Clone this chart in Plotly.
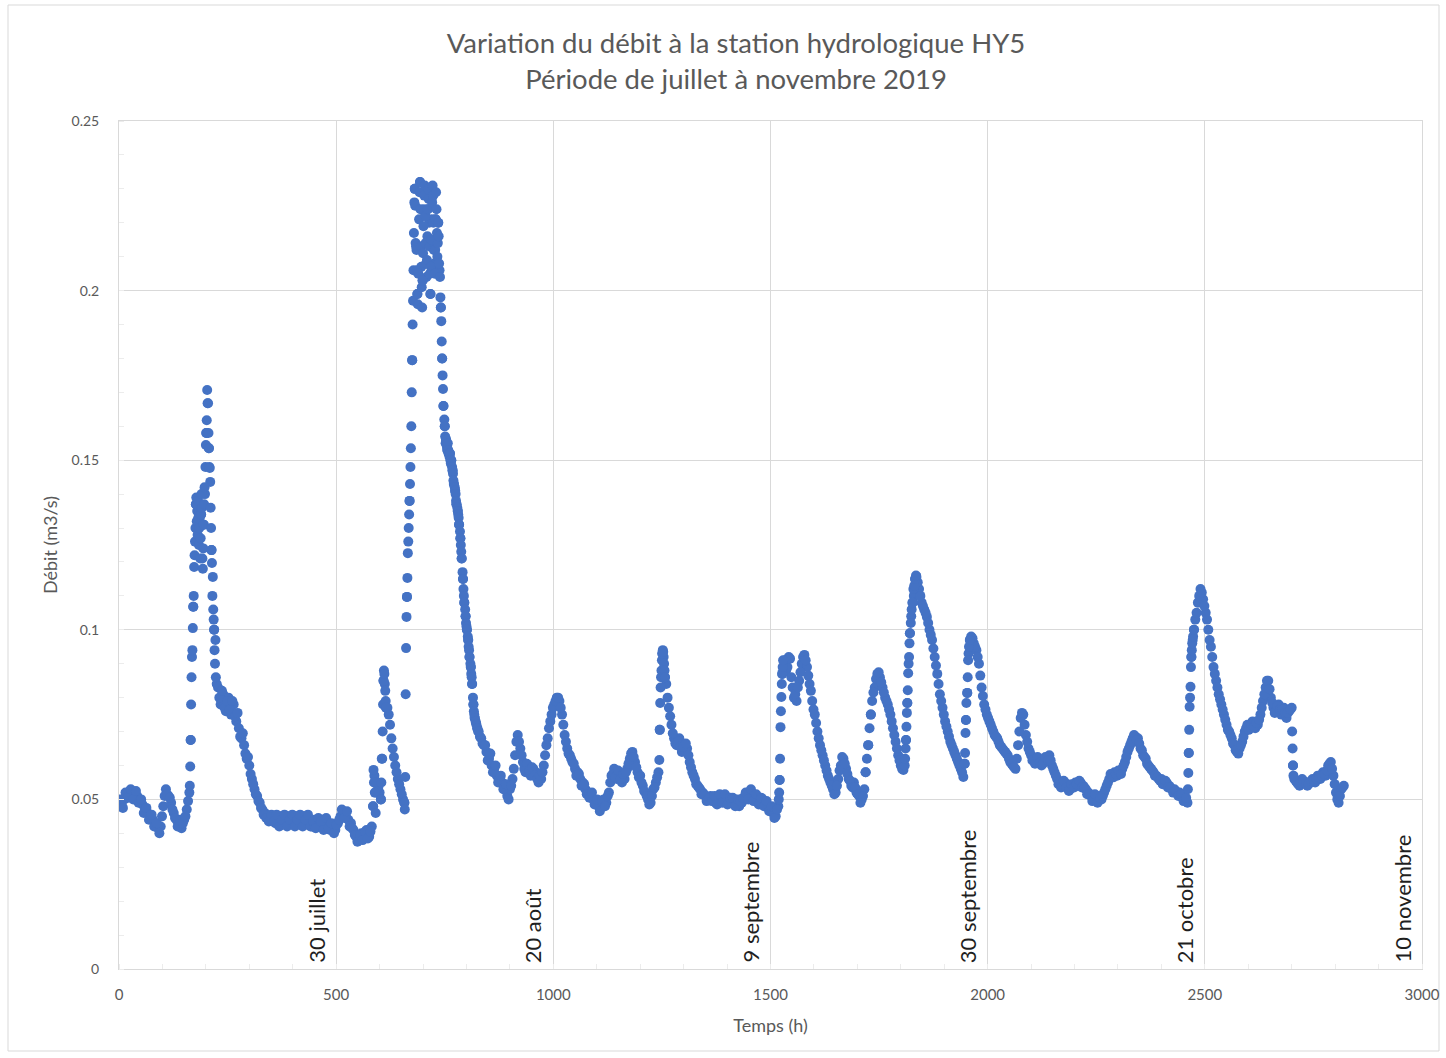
import plotly.graph_objects as go

# Débit relevé toutes les 6 heures (m3/s), à partir de t = 0 h
debit = [
    0.048, 0.0485, 0.050, 0.051, 0.052, 0.0515, 0.0515, 0.051, 0.0495, 0.0485,
    0.047, 0.046, 0.0445, 0.044, 0.0425, 0.0415, 0.042, 0.048, 0.053, 0.051,
    0.049, 0.046, 0.044, 0.0435, 0.0415, 0.044, 0.047, 0.052, 0.092, 0.122,
    0.135, 0.133, 0.121, 0.140, 0.1668, 0.1436, 0.1156, 0.097, 0.083, 0.078,
    0.081, 0.076, 0.080, 0.075, 0.078, 0.073, 0.071, 0.068, 0.066, 0.062,
    0.060, 0.056, 0.053, 0.051, 0.049, 0.047, 0.046, 0.045, 0.044, 0.045,
    0.043, 0.044, 0.045, 0.043, 0.044, 0.045, 0.043, 0.044, 0.045, 0.043,
    0.044, 0.045, 0.043, 0.044, 0.042, 0.044, 0.043, 0.042, 0.044, 0.042,
    0.043, 0.041, 0.042, 0.041, 0.043, 0.045, 0.046, 0.045, 0.044, 0.043,
    0.041, 0.039, 0.038, 0.040, 0.039, 0.041, 0.039, 0.042, 0.057, 0.055,
    0.052, 0.062, 0.084, 0.077, 0.072, 0.065, 0.060, 0.056, 0.053, 0.050,
    0.081, 0.126, 0.1535, 0.206, 0.213, 0.213, 0.207, 0.224, 0.204, 0.220,
    0.221, 0.208, 0.217, 0.206, 0.180, 0.160, 0.153, 0.152, 0.147, 0.141,
    0.135, 0.127, 0.115, 0.104, 0.097, 0.089, 0.078, 0.0725, 0.070, 0.068,
    0.066, 0.064, 0.062, 0.060, 0.059, 0.057, 0.056, 0.055, 0.053, 0.051,
    0.053, 0.056, 0.063, 0.069, 0.065, 0.061, 0.058, 0.060, 0.057, 0.059,
    0.058, 0.055, 0.056, 0.060, 0.066, 0.071, 0.075, 0.078, 0.080, 0.079,
    0.075, 0.069, 0.065, 0.063, 0.061, 0.059, 0.058, 0.056, 0.055, 0.053,
    0.052, 0.051, 0.050, 0.049, 0.048, 0.048, 0.050, 0.049, 0.052, 0.057,
    0.059, 0.056, 0.058, 0.055, 0.056, 0.059, 0.062, 0.064, 0.061, 0.058,
    0.057, 0.054, 0.052, 0.050, 0.049, 0.053, 0.055, 0.058, 0.086, 0.092,
    0.084, 0.077, 0.072, 0.068, 0.066, 0.068, 0.064, 0.066, 0.065, 0.061,
    0.058, 0.056, 0.054, 0.053, 0.052, 0.051, 0.050, 0.051, 0.050, 0.049,
    0.050, 0.051, 0.050, 0.049, 0.050, 0.049, 0.050, 0.049, 0.048, 0.049,
    0.050, 0.051, 0.052, 0.051, 0.050, 0.050, 0.049, 0.050, 0.049, 0.048,
    0.047, 0.046, 0.045, 0.048, 0.076, 0.088, 0.088, 0.092, 0.086, 0.080,
    0.079, 0.085, 0.090, 0.0926, 0.089, 0.084, 0.079, 0.075, 0.070, 0.066,
    0.063, 0.060, 0.057, 0.055, 0.053, 0.052, 0.056, 0.060, 0.062, 0.059,
    0.056, 0.054, 0.055, 0.052, 0.051, 0.050, 0.053, 0.062, 0.071, 0.079,
    0.083, 0.087, 0.086, 0.083, 0.080, 0.078, 0.075, 0.071, 0.067, 0.063,
    0.060, 0.0587, 0.0675, 0.090, 0.104, 0.110, 0.1156, 0.112, 0.108, 0.106,
    0.1038, 0.100, 0.097, 0.092, 0.087, 0.081, 0.077, 0.073, 0.070, 0.067,
    0.065, 0.063, 0.061, 0.059, 0.0566, 0.0734, 0.093, 0.098, 0.096, 0.094,
    0.090, 0.083, 0.078, 0.075, 0.073, 0.071, 0.069, 0.068, 0.066, 0.065,
    0.064, 0.063, 0.061, 0.060, 0.059, 0.066, 0.074, 0.075, 0.069, 0.065,
    0.063, 0.062, 0.061, 0.062, 0.060, 0.061, 0.062, 0.063, 0.060, 0.058,
    0.056, 0.055, 0.054, 0.055, 0.054, 0.053, 0.054, 0.055, 0.054, 0.055,
    0.054, 0.053, 0.052, 0.051, 0.050, 0.050, 0.051, 0.050, 0.052, 0.054,
    0.056, 0.057, 0.058, 0.057, 0.058, 0.059, 0.061, 0.064, 0.066, 0.068,
    0.0685, 0.068, 0.065, 0.063, 0.062, 0.060, 0.059, 0.058, 0.057, 0.056,
    0.056, 0.055, 0.055, 0.054, 0.053, 0.053, 0.052, 0.052, 0.051, 0.050,
    0.049, 0.080, 0.097, 0.103, 0.108, 0.112, 0.109, 0.105, 0.100, 0.095,
    0.089, 0.085, 0.081, 0.078, 0.075, 0.072, 0.070, 0.068, 0.066, 0.064,
    0.065, 0.067, 0.070, 0.072, 0.071, 0.073, 0.071, 0.072, 0.075, 0.079,
    0.083, 0.085, 0.080, 0.077, 0.076, 0.078, 0.075, 0.077, 0.074, 0.076,
    0.077, 0.056, 0.055, 0.054, 0.056, 0.055, 0.054, 0.055, 0.056, 0.055,
    0.057, 0.056, 0.058, 0.057, 0.060, 0.061, 0.057, 0.052, 0.049, 0.053,
    0.054,
]
heures = list(range(0, 6 * len(debit), 6))

# Relevés intermédiaires, décalés de 3 h (t = 3, 9, 15, ...)
debit_inter = [
    0.050, 0.0475, 0.052, 0.0505, 0.053, 0.050, 0.0525, 0.049, 0.050, 0.046,
    0.0475, 0.044, 0.0455, 0.042, 0.043, 0.040, 0.045, 0.051, 0.0515, 0.0505,
    0.047, 0.0445, 0.042, 0.044, 0.043, 0.045, 0.0495, 0.0675, 0.1068, 0.137,
    0.133, 0.134, 0.131, 0.158, 0.1535, 0.1235, 0.100, 0.084, 0.080, 0.082,
    0.077, 0.079, 0.0765, 0.079, 0.0745, 0.0755, 0.0685, 0.0695, 0.0635, 0.0625,
    0.0575, 0.0545, 0.0515, 0.0495, 0.0475, 0.0455, 0.0445, 0.0435, 0.0455, 0.0435,
    0.0455, 0.042, 0.044, 0.0455, 0.042, 0.044, 0.0455, 0.042, 0.044, 0.0455,
    0.042, 0.044, 0.0455, 0.042, 0.0435, 0.0415, 0.0445, 0.0435, 0.041, 0.0445,
    0.0415, 0.043, 0.040, 0.0425, 0.044, 0.047, 0.0445, 0.0465, 0.042, 0.0415,
    0.0395, 0.0375, 0.0395, 0.038, 0.0405, 0.0385, 0.0405, 0.048, 0.052, 0.0535,
    0.050, 0.085, 0.077, 0.075, 0.068, 0.0625, 0.058, 0.0545, 0.0515, 0.049,
    0.1097, 0.138, 0.1795, 0.230, 0.199, 0.232, 0.203, 0.222, 0.224, 0.199,
    0.228, 0.221, 0.220, 0.195, 0.166, 0.156, 0.152, 0.150, 0.143, 0.137,
    0.131, 0.121, 0.108, 0.100, 0.092, 0.084, 0.074, 0.071, 0.0685, 0.0665,
    0.066, 0.0615, 0.0635, 0.058, 0.060, 0.055, 0.057, 0.053, 0.0545, 0.050,
    0.054, 0.059, 0.067, 0.067, 0.063, 0.059, 0.0605, 0.0585, 0.0595, 0.057,
    0.056, 0.057, 0.058, 0.063, 0.068, 0.073, 0.077, 0.079, 0.080, 0.077,
    0.072, 0.067, 0.0635, 0.062, 0.0605, 0.057, 0.0575, 0.054, 0.0545, 0.0515,
    0.0505, 0.052, 0.0485, 0.050, 0.0465, 0.0495, 0.048, 0.051, 0.055, 0.0575,
    0.0565, 0.0585, 0.056, 0.0575, 0.058, 0.0605, 0.0635, 0.0625, 0.0595, 0.0565,
    0.055, 0.0525, 0.051, 0.0485, 0.051, 0.0535, 0.0565, 0.0705, 0.093, 0.086,
    0.080, 0.0745, 0.0695, 0.0665, 0.067, 0.0655, 0.0655, 0.0665, 0.063, 0.0595,
    0.057, 0.0545, 0.0535, 0.0515, 0.0515, 0.0495, 0.0505, 0.0495, 0.051, 0.0485,
    0.0515, 0.049, 0.0515, 0.0485, 0.0505, 0.0505, 0.048, 0.050, 0.0495, 0.0505,
    0.052, 0.050, 0.053, 0.0495, 0.0515, 0.0485, 0.0505, 0.048, 0.0495, 0.0465,
    0.048, 0.0445, 0.047, 0.0557, 0.087, 0.091, 0.089, 0.0915, 0.083, 0.081,
    0.083, 0.0875, 0.092, 0.091, 0.0865, 0.082, 0.0765, 0.0725, 0.068, 0.0645,
    0.0615, 0.0585, 0.056, 0.054, 0.0515, 0.054, 0.0585, 0.0625, 0.0605, 0.0575,
    0.0555, 0.0535, 0.0535, 0.0515, 0.049, 0.051, 0.058, 0.066, 0.075, 0.0815,
    0.0855, 0.0875, 0.0845, 0.0815, 0.079, 0.0765, 0.073, 0.069, 0.065, 0.0615,
    0.059, 0.060, 0.0784, 0.099, 0.108, 0.115, 0.114, 0.110, 0.107, 0.105,
    0.102, 0.0985, 0.0945, 0.0895, 0.084, 0.079, 0.075, 0.0715, 0.0685, 0.066,
    0.064, 0.062, 0.060, 0.058, 0.0605, 0.0814, 0.097, 0.0975, 0.095, 0.092,
    0.0865, 0.0805, 0.0765, 0.074, 0.072, 0.070, 0.0685, 0.067, 0.0655, 0.0645,
    0.0635, 0.062, 0.0605, 0.0595, 0.062, 0.070, 0.0755, 0.072, 0.067, 0.064,
    0.0615, 0.0605, 0.0625, 0.061, 0.0605, 0.0625, 0.0615, 0.0615, 0.059, 0.057,
    0.0545, 0.0535, 0.0555, 0.0535, 0.0525, 0.0545, 0.0535, 0.0545, 0.0555, 0.0535,
    0.0535, 0.0515, 0.0515, 0.0495, 0.0515, 0.049, 0.0505, 0.051, 0.053, 0.055,
    0.0575, 0.0565, 0.0575, 0.0585, 0.0575, 0.060, 0.0625, 0.065, 0.067, 0.069,
    0.0675, 0.0665, 0.0645, 0.0625, 0.0605, 0.0595, 0.0585, 0.057, 0.0565, 0.0555,
    0.0545, 0.0555, 0.0535, 0.0535, 0.052, 0.0525, 0.051, 0.0515, 0.0495, 0.0505,
    0.0637, 0.092, 0.100, 0.105, 0.110, 0.111, 0.107, 0.103, 0.097, 0.092,
    0.087, 0.083, 0.0795, 0.0765, 0.0735, 0.0705, 0.069, 0.0665, 0.0645, 0.0635,
    0.066, 0.0685, 0.071, 0.0705, 0.072, 0.0715, 0.0725, 0.0735, 0.077, 0.081,
    0.085, 0.0825, 0.0785, 0.0755, 0.0775, 0.0765, 0.0765, 0.0755, 0.0755, 0.0765,
    0.060, 0.0555, 0.0545, 0.055, 0.0555, 0.0545, 0.0545, 0.0555, 0.0555, 0.056,
    0.0565, 0.057, 0.0575, 0.0585, 0.0605, 0.059, 0.0545, 0.050, 0.051, 0.0535,
]
heures_inter = list(range(3, 6 * len(debit_inter), 6))

# Relevés horaires complémentaires pendant les montées et décrues rapides
heures_crue = [
    163, 164, 165, 166, 167, 169, 170, 171, 172, 173, 175, 176, 177, 178, 179,
    181, 182, 183, 184, 185, 187, 188, 189, 190, 191, 193, 194, 195, 196, 197,
    199, 200, 201, 202, 203, 205, 206, 207, 208, 209, 211, 212, 213, 214, 215,
    217, 218, 219, 220, 221, 223,
    585, 586, 587, 589, 591, 603, 604, 605, 607, 608, 609, 610, 611, 613, 614, 615,
    657, 658, 659, 661, 662, 663, 664, 665, 667, 668, 669, 670, 671, 673, 674,
    675, 676, 677, 679, 680,
    681, 682, 683, 685, 686, 687, 688, 689, 691, 692, 693, 694, 695, 697, 698,
    699, 700, 701, 703, 704, 705, 706, 707, 709, 710, 711, 712, 713, 715, 716,
    717, 718, 719, 721, 722, 723, 724, 725, 727, 728, 729, 730, 731, 733, 734,
    735, 736, 737,
    739, 740, 741, 742, 743, 744, 745, 746, 747, 749, 750, 751, 752, 753, 755,
    756, 757, 758, 759, 761, 762, 763, 764, 765, 767, 768, 769, 770, 771, 773,
    774, 775, 776, 777, 779, 780, 781, 782, 783, 785, 786, 787, 788, 789, 791,
    792, 793, 794, 795, 797, 798, 799, 800, 801, 803, 804, 805, 806, 807, 809,
    810, 811, 812, 813, 815, 816, 817, 818, 819, 821, 823, 825, 827,
    1244, 1245, 1246, 1247, 1249, 1250, 1251, 1252, 1253, 1255, 1256, 1257,
    1519, 1520, 1521, 1522, 1523, 1525, 1526, 1527, 1528, 1529,
    1719, 1725, 1731,
    1810, 1811, 1812, 1813, 1814, 1815, 1816, 1817, 1819, 1820, 1821, 1823,
    1825, 1827, 1829, 1831, 1833, 1835,
    1947, 1948, 1949, 1950, 1951, 1953, 1954, 1955, 1957, 1959,
    2461, 2462, 2463, 2464, 2465, 2467, 2468, 2469, 2470, 2471, 2473, 2475,
    2701, 2702, 2703, 2704,
]
debit_crue = [
    0.054, 0.0597, 0.0675, 0.078, 0.086, 0.094, 0.1005, 0.1068, 0.110, 0.1185, 0.126, 0.130, 0.137, 0.139, 0.132,
    0.128, 0.138, 0.133, 0.125, 0.130, 0.121, 0.127, 0.134, 0.140, 0.136, 0.118, 0.124, 0.131, 0.137, 0.142,
    0.148, 0.1545, 0.158, 0.1618, 0.1707, 0.1668, 0.158, 0.1535, 0.148, 0.1477, 0.136, 0.130, 0.1235, 0.1197, 0.110,
    0.106, 0.103, 0.100, 0.094, 0.090, 0.086,
    0.048, 0.0587, 0.055, 0.052, 0.046, 0.050, 0.055, 0.062, 0.070, 0.078, 0.085, 0.088, 0.087, 0.082, 0.079, 0.077,
    0.049, 0.047, 0.0566, 0.0946, 0.1038, 0.1097, 0.1153, 0.1226, 0.130, 0.134, 0.138, 0.143, 0.148, 0.160, 0.170,
    0.1795, 0.190, 0.197, 0.217, 0.226,
    0.230, 0.225, 0.214, 0.212, 0.206, 0.199, 0.196, 0.205, 0.221, 0.229, 0.232, 0.224, 0.213, 0.201, 0.195,
    0.203, 0.211, 0.219, 0.228, 0.231, 0.222, 0.214, 0.208, 0.209, 0.216, 0.224, 0.230, 0.227, 0.213, 0.205,
    0.199, 0.207, 0.215, 0.226, 0.231, 0.228, 0.220, 0.212, 0.205, 0.212, 0.221, 0.229, 0.224, 0.210, 0.214,
    0.220, 0.216, 0.208,
    0.204, 0.198, 0.195, 0.191, 0.185, 0.180, 0.175, 0.171, 0.166, 0.162, 0.160, 0.157, 0.155, 0.156, 0.154,
    0.153, 0.155, 0.153, 0.152, 0.151, 0.152, 0.150, 0.149, 0.150, 0.148, 0.147, 0.146, 0.144, 0.143, 0.142,
    0.141, 0.140, 0.138, 0.137, 0.136, 0.135, 0.134, 0.133, 0.131, 0.129, 0.127, 0.125, 0.123, 0.121, 0.117,
    0.115, 0.112, 0.110, 0.108, 0.106, 0.104, 0.102, 0.101, 0.100, 0.098, 0.097, 0.095, 0.094, 0.092, 0.090,
    0.089, 0.087, 0.086, 0.084, 0.080, 0.078, 0.076, 0.075, 0.074, 0.073, 0.072, 0.071, 0.070,
    0.0616, 0.0705, 0.0784, 0.083, 0.088, 0.091, 0.093, 0.094, 0.0935, 0.090, 0.088, 0.086,
    0.050, 0.052, 0.0557, 0.062, 0.0713, 0.0802, 0.084, 0.087, 0.089, 0.091,
    0.058, 0.066, 0.075,
    0.062, 0.065, 0.0675, 0.0714, 0.0755, 0.0784, 0.0822, 0.0872, 0.092, 0.096, 0.099, 0.102,
    0.106, 0.108, 0.112, 0.113, 0.115, 0.116,
    0.0605, 0.0637, 0.0696, 0.0734, 0.0784, 0.0814, 0.086, 0.091, 0.095, 0.097,
    0.053, 0.0578, 0.0637, 0.0705, 0.0773, 0.0832, 0.089, 0.092, 0.094, 0.096, 0.098, 0.100,
    0.070, 0.065, 0.060, 0.057,
]

# Repères calendaires placés le long de l'axe du temps
reperes_h = [500, 1000, 1500, 2000, 2500, 3000]
reperes_txt = ["30 juillet", "20 août", "9 septembre", "30 septembre", "21 octobre", "10 novembre"]

BLEU = "#4472C4"
GRILLE = "#d9d9d9"
GRIS_TEXTE = "#595959"
POLICE = "Lato"

fig = go.Figure(
    go.Scatter(
        x=heures + heures_inter + heures_crue,
        y=debit + debit_inter + debit_crue,
        mode="markers",
        marker=dict(color=BLEU, size=10, line=dict(width=0)),
        showlegend=False,
    )
)

for h, txt in zip(reperes_h, reperes_txt):
    fig.add_annotation(
        x=h, y=0, xref="x", yref="y",
        text=txt, textangle=-90, showarrow=False,
        xanchor="right", yanchor="bottom",
        xshift=-5, yshift=4,
        font=dict(family=POLICE, size=22, color="#1f1f1f"),
    )

# Cadre extérieur du graphique
fig.add_shape(
    type="rect", xref="paper", yref="paper",
    x0=(8 - 119) / 1303, x1=(1439 - 119) / 1303,
    y0=(969 - 1051) / 848, y1=(969 - 5) / 848,
    line=dict(color=GRILLE, width=1), layer="below",
)

fig.update_layout(
    width=1446, height=1058,
    margin=dict(l=119, r=24, t=121, b=89),
    paper_bgcolor="white", plot_bgcolor="white",
    font=dict(family=POLICE, color=GRIS_TEXTE),
    title=dict(
        text="Variation du débit à la station hydrologique HY5<br>Période de juillet à novembre 2019",
        x=0.509, xanchor="center", xref="container",
        y=0.950, yanchor="top", yref="container",
        font=dict(family=POLICE, size=27.5, color=GRIS_TEXTE),
    ),
    xaxis=dict(
        range=[0, 3000], dtick=500, tick0=0,
        showgrid=True, gridcolor=GRILLE, gridwidth=1,
        showline=True, linecolor=GRILLE, linewidth=1, mirror=True,
        zeroline=False, automargin=False,
        ticks="outside", ticklen=12, tickcolor="rgba(0,0,0,0)",
        tickfont=dict(family=POLICE, size=15, color=GRIS_TEXTE),
        minor=dict(ticks="inside", ticklen=5, tickcolor="#ececec", dtick=100, showgrid=False),
        title=dict(text="Temps (h)", font=dict(family=POLICE, size=18, color=GRIS_TEXTE), standoff=17),
    ),
    yaxis=dict(
        range=[0, 0.25], dtick=0.05, tick0=0,
        showgrid=True, gridcolor=GRILLE, gridwidth=1,
        showline=True, linecolor=GRILLE, linewidth=1, mirror=True,
        zeroline=False, automargin=False,
        ticks="outside", ticklen=16, tickcolor="rgba(0,0,0,0)",
        tickfont=dict(family=POLICE, size=14, color=GRIS_TEXTE),
        minor=dict(ticks="inside", ticklen=5, tickcolor="#ececec", dtick=0.01, showgrid=False),
        title=dict(text="Débit (m3/s)", font=dict(family=POLICE, size=18, color=GRIS_TEXTE), standoff=9),
    ),
)

fig.write_html("out.html")
